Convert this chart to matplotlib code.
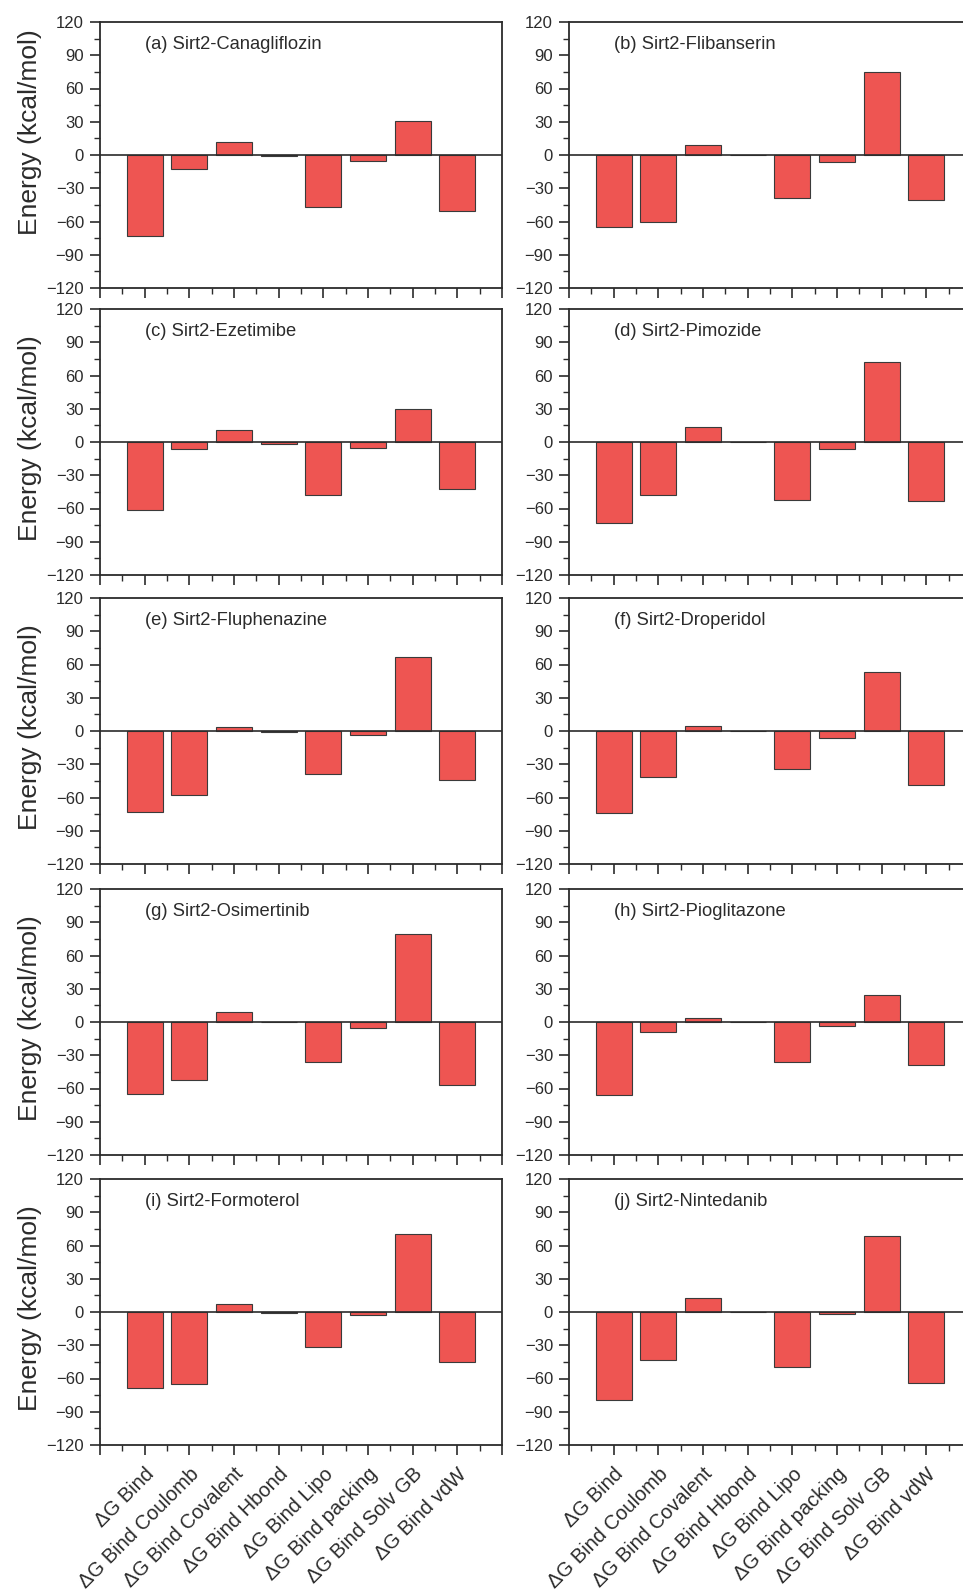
import numpy as np
import matplotlib
matplotlib.use("Agg")
import matplotlib.pyplot as plt
from matplotlib.ticker import MultipleLocator

plt.rcParams['font.family'] = ['Liberation Sans', 'DejaVu Sans']

terms = ["ΔG Bind", "ΔG Bind Coulomb", "ΔG Bind Covalent", "ΔG Bind Hbond",
         "ΔG Bind Lipo", "ΔG Bind packing", "ΔG Bind Solv GB", "ΔG Bind vdW"]

# energy components (kcal/mol) for each complex, same order as terms
canagliflozin = [-73.5, -12.7, 11.5, -1.2, -46.6, -5.4, 30.6, -50.2]
flibanserin = [-65.0, -60.2, 9.1, 0.0, -38.6, -6.4, 74.8, -40.4]
ezetimibe = [-61.4, -6.0, 11.2, -1.5, -47.5, -5.7, 29.9, -42.0]
pimozide = [-73.4, -47.7, 13.3, 0.0, -52.3, -6.3, 72.5, -52.9]
fluphenazine = [-73.5, -57.5, 3.9, -1.2, -38.4, -3.3, 66.9, -44.5]
droperidol = [-73.6, -41.8, 4.5, 0.0, -34.5, -6.0, 53.0, -49.0]
osimertinib = [-65.0, -52.0, 9.0, 0.0, -35.7, -5.5, 79.0, -57.0]
pioglitazone = [-66.0, -9.0, 4.0, 0.0, -36.5, -4.0, 24.0, -39.0]
formoterol = [-69.0, -65.0, 7.5, -1.0, -32.0, -2.5, 70.0, -45.0]
nintedanib = [-79.0, -43.0, 13.0, 0.0, -49.5, -2.0, 69.0, -64.0]

titles = ["(a) Sirt2-Canagliflozin", "(b) Sirt2-Flibanserin", "(c) Sirt2-Ezetimibe",
          "(d) Sirt2-Pimozide", "(e) Sirt2-Fluphenazine", "(f) Sirt2-Droperidol",
          "(g) Sirt2-Osimertinib", "(h) Sirt2-Pioglitazone", "(i) Sirt2-Formoterol",
          "(j) Sirt2-Nintedanib"]
series = [canagliflozin, flibanserin, ezetimibe, pimozide, fluphenazine,
          droperidol, osimertinib, pioglitazone, formoterol, nintedanib]

W, H = 963, 1590
fig = plt.figure(figsize=(W / 100, H / 100), dpi=100)

ax_w = 402
ax_h = 266
lefts = [100, 569]
tops = [22, 309, 598, 889, 1179]
pos = np.arange(1, len(terms) + 1)
ink = '#2b2b2b'

for i, (title, vals) in enumerate(zip(titles, series)):
    row, col = divmod(i, 2)
    ax = fig.add_axes([lefts[col] / W, 1 - (tops[row] + ax_h) / H, ax_w / W, ax_h / H])
    ax.bar(pos, vals, width=0.8, color='#EE5552', edgecolor='#3a3a3a', linewidth=0.8, zorder=2)
    ax.axhline(0, color=ink, lw=1.2, zorder=3)
    ax.set_xlim(0, 9)
    ax.set_ylim(-120, 120)
    ax.yaxis.set_major_locator(MultipleLocator(30))
    ax.yaxis.set_minor_locator(MultipleLocator(15))
    ax.xaxis.set_major_locator(MultipleLocator(1))
    ax.xaxis.set_minor_locator(MultipleLocator(0.5))
    ax.tick_params(which='major', direction='out', length=7, width=1.2, colors=ink,
                   labelsize=12, pad=4.5)
    ax.tick_params(which='minor', direction='out', length=4, width=1.0, colors=ink)
    for s in ax.spines.values():
        s.set_linewidth(1.3)
        s.set_color(ink)
    ax.text(0.112, 0.915, title, transform=ax.transAxes, fontsize=13.2,
            color=ink, va='center', ha='left')
    if row == 4:
        ax.set_xticks(np.arange(0, 10))
        ax.set_xticklabels([""] + terms + [""], rotation=45, ha='right',
                           rotation_mode='anchor', fontsize=14.5)
        ax.tick_params(axis='x', which='major', pad=7)
    else:
        ax.set_xticklabels([])
    if col == 0:
        ax.set_ylabel("Energy (kcal/mol)", fontsize=19, color=ink)
        ax.yaxis.set_label_coords(-0.145, 0.585 if row == 0 else 0.515)

fig.savefig("out.png", dpi=100)
